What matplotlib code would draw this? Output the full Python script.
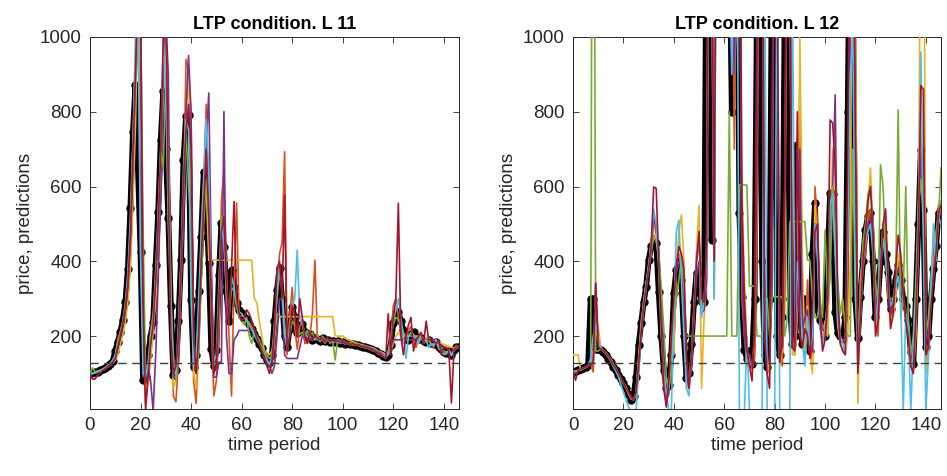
import numpy as np
import matplotlib
matplotlib.use("Agg")
import matplotlib.pyplot as plt

plt.rcParams['font.family'] = ['Liberation Sans', 'DejaVu Sans']

# fundamental price (dashed line)
p_fund = 127

# ---------------- L 11 ----------------
price_11 = [100,101,103,105,108,111,115,120,126,133,
            160,185,210,243,290,380,543,745,872,650,
            426,82,90,150,200,238,390,533,724,855,
            700,516,280,96,110,240,403,671,789,791,
            296,117,150,320,466,640,560,395,165,120,
            163,363,502,439,320,240,376,330,288,270,
            262,252,245,232,220,205,192,180,168,150,
            135,128,150,240,323,382,300,200,171,220,
            278,250,208,215,232,210,198,205,189,196,
            192,188,194,186,190,185,188,184,186,182,
            184,180,181,178,179,176,177,174,172,170,
            168,166,163,160,156,152,148,145,150,175,
            235,262,265,240,215,200,190,205,210,198,
            192,196,188,185,190,182,178,185,170,165,
            158,155,160,150,162,170,172]

orange_11 = [100,99,103,106,108,112,116,121,127,134,
             142,192,212,238,280,340,470,710,950,1150,
             430,200,20,98,215,255,280,545,680,920,
             1100,545,330,40,24,130,370,560,940,910,
             790,80,20,185,490,615,820,480,230,40,
             80,210,560,640,380,200,40,330,556,250,
             255,250,240,238,225,215,198,185,172,160,
             140,120,125,175,330,420,450,693,150,250,
             330,225,165,225,245,180,185,200,260,403,
             190,195,190,180,192,188,182,186,184,180,
             186,178,183,176,180,174,178,172,173,168,
             170,164,160,158,152,150,145,142,152,190,
             280,300,250,215,180,190,215,225,195,170,
             195,200,180,190,195,175,170,190,165,160,
             155,150,165,148,168,175,170]

yellow_11 = [98,100,101,104,106,109,112,117,122,128,
             135,150,178,205,238,290,380,560,760,1100,
             1100,300,60,70,140,210,300,420,620,850,
             1000,750,300,60,80,180,330,560,780,900,
             600,100,60,200,400,600,600,403,403,403,
             403,403,403,403,403,403,403,403,403,403,
             403,403,403,403,403,300,290,240,200,160,
             155,150,160,200,260,252,252,252,252,252,
             252,252,252,252,252,252,252,252,252,252,
             252,252,252,252,252,252,252,200,200,200,
             200,195,190,188,185,182,180,178,176,174,
             172,170,168,165,160,158,155,150,152,160,
             180,200,210,200,200,200,200,200,200,200,
             200,200,195,195,195,190,190,188,185,180,
             178,175,172,170,168,170,172]

purple_11 = [100,101,102,104,107,110,113,118,124,130,
             140,170,200,230,270,330,450,650,900,1100,
             1000,90,120,120,80,0,150,350,600,900,
             1050,900,250,90,90,150,350,500,800,950,
             800,200,100,180,400,600,720,850,400,90,
             90,130,130,800,200,100,100,190,200,215,
             215,215,215,215,215,215,200,180,160,140,
             130,120,100,120,200,300,300,150,140,140,
             140,140,140,170,200,200,190,190,190,190,
             190,190,190,190,190,190,190,190,190,190,
             190,185,182,180,180,178,176,175,174,172,
             170,168,165,162,158,155,150,140,150,170,
             190,190,190,190,190,190,190,190,190,190,
             190,190,190,190,190,190,190,190,180,175,
             160,155,160,155,165,170,172]

green_11 = [100,115,104,106,108,111,115,120,126,133,
            145,180,210,240,280,350,480,700,880,960,
            1100,500,100,110,200,260,350,480,700,650,
            900,700,300,150,80,200,400,600,750,600,
            500,200,100,150,350,500,620,520,300,120,
            130,250,520,480,300,250,330,320,280,250,
            240,230,250,200,180,215,200,190,170,160,
            150,140,150,210,300,370,330,230,160,200,
            240,230,225,205,210,200,215,195,210,190,
            205,185,200,190,195,180,190,136,190,185,
            185,182,180,183,176,178,176,172,174,170,
            167,165,162,160,155,150,147,148,160,200,
            230,250,245,230,210,200,200,200,205,195,
            190,195,190,185,188,180,178,183,172,168,
            160,157,158,152,160,168,172]

cyan_11 = [100,100,103,105,108,111,115,121,127,135,
           150,180,205,240,285,370,520,720,1000,1100,
           420,100,90,130,200,240,380,520,700,1000,
           850,500,280,110,100,230,400,650,780,750,
           300,120,140,300,460,620,780,640,300,130,
           150,340,500,450,320,245,360,330,285,265,
           260,250,242,230,218,203,190,178,165,150,
           135,125,145,235,320,380,320,205,170,215,
           280,300,430,250,230,210,198,205,190,195,
           193,187,194,186,190,185,188,184,186,182,
           183,180,181,177,179,176,177,173,171,169,
           167,165,162,159,155,151,147,145,152,180,
           240,270,300,250,200,140,200,210,200,195,
           180,200,185,190,170,180,175,190,168,160,
           150,155,162,148,160,168,170]

red_11 = [98,85,85,95,100,108,112,118,123,130,
          140,170,200,235,275,340,470,690,900,1150,
          1150,300,0,90,180,230,350,500,700,1000,
          1100,600,200,100,120,200,380,620,750,820,
          700,200,100,200,400,550,700,520,300,100,
          120,300,480,520,340,230,380,560,300,260,
          240,250,270,260,240,220,195,180,160,145,
          120,100,130,220,380,400,300,577,160,200,
          280,260,200,300,250,200,180,210,190,200,
          195,190,195,185,195,185,190,185,188,183,
          185,180,183,177,180,175,178,173,172,170,
          168,165,162,158,155,150,145,140,260,150,
          250,300,555,200,150,200,230,250,160,190,
          200,210,180,240,190,190,185,180,190,150,
          170,170,160,21,160,170,172]

# ---------------- L 12 ----------------
price_12 = [105,106,110,112,115,118,122,300,300,165,
            165,162,158,150,140,130,118,108,97,85,
            74,60,45,30,40,91,176,234,290,332,
            403,440,449,449,319,200,110,61,70,150,
            315,377,400,350,200,88,100,180,292,369,
            330,292,290,1400,1250,457,1500,1300,1200,1600,
            1400,1100,1300,800,1200,1500,529,305,163,140,
            160,126,300,1100,1500,400,150,118,300,1300,
            1200,200,150,250,1100,1400,300,180,200,711,
            262,180,300,200,160,420,556,270,244,225,
            200,400,583,580,265,208,200,192,250,800,
            1500,1200,300,195,305,400,484,520,529,400,
            252,300,400,479,420,372,273,300,350,390,
            350,300,280,243,157,125,300,500,698,537,
            171,200,300,380,440,529,540]

orange_12 = [105,104,108,111,114,117,120,125,104,300,
             200,170,162,155,148,138,125,112,100,88,
             75,62,48,35,28,45,130,240,280,340,
             370,460,470,450,420,250,100,20,60,100,
             230,400,420,380,320,120,80,150,280,400,
             450,300,280,400,2000,1200,300,2000,1500,1300,
             1800,1500,1000,1400,700,1300,1600,300,200,120,
             150,110,140,450,1600,1800,300,120,100,450,
             2000,1100,180,120,320,1500,1600,200,150,250,
             900,200,150,350,180,130,600,500,250,230,
             210,200,500,600,550,250,190,190,190,300,
             1200,1600,900,100,250,380,420,500,540,500,
             300,200,380,450,480,350,250,280,360,400,
             370,290,270,230,150,110,260,550,750,600,
             120,180,320,400,460,550,560]

yellow_12 = [150,150,150,108,113,116,120,125,130,200,
             225,170,160,152,145,133,120,110,98,86,
             72,60,45,32,30,50,140,220,290,340,
             380,420,500,470,400,250,60,90,40,200,
             150,380,480,524,400,60,80,140,260,430,
             550,60,250,350,1500,1700,600,2000,1400,1500,
             1300,1800,1200,1500,900,1100,1700,600,350,160,
             130,120,180,800,1700,1600,250,100,140,600,
             1800,1200,120,160,500,1600,1200,150,150,270,
             1000,400,160,280,150,100,550,450,260,200,
             240,200,450,700,620,230,180,160,150,200,
             400,1800,1100,20,350,420,450,540,650,480,
             220,250,400,500,520,350,230,250,300,420,
             400,300,250,230,140,100,200,450,1500,1800,
             100,150,300,380,460,500,560]

purple_12 = [105,100,108,111,114,117,120,123,128,341,
             180,168,160,152,143,133,120,110,98,86,
             74,60,48,35,28,40,120,200,270,320,
             380,430,520,480,400,280,120,20,50,150,
             280,370,400,390,300,100,60,120,260,360,
             400,260,270,350,1500,1300,350,1600,1300,1400,
             1500,1300,1100,1200,900,1300,1400,400,200,140,
             150,120,200,700,1500,1400,280,130,140,500,
             1500,1000,160,170,600,1300,1200,200,180,300,
             700,220,250,270,150,160,500,480,250,220,
             210,300,480,600,845,300,200,180,200,400,
             1100,1300,700,180,300,380,460,500,520,450,
             270,280,390,460,440,360,260,290,340,380,
             360,310,270,240,160,120,280,480,680,560,
             180,210,300,370,430,510,530]

green_12 = [105,106,108,111,114,117,120,130,2500,160,
            160,165,160,155,145,140,125,115,100,88,
            75,65,50,38,30,40,110,210,270,330,
            390,430,460,460,420,330,220,90,60,120,
            250,300,350,410,330,200,200,200,200,200,
            200,200,200,200,200,200,200,200,200,200,
            200,200,800,200,200,200,604,604,604,604,
            334,334,334,200,200,200,300,300,200,305,
            305,305,305,305,200,250,506,506,506,506,
            506,506,506,403,403,300,250,250,300,250,
            484,300,350,600,420,350,260,300,220,200,
            200,700,300,200,300,450,500,580,600,500,
            350,280,658,600,420,300,300,300,350,805,
            250,300,600,250,150,200,350,550,620,500,
            200,250,350,450,480,520,650]

cyan_12 = [105,106,108,111,114,117,120,140,200,234,
           190,165,160,153,145,133,118,106,92,70,
           50,30,10,0,0,0,100,220,290,340,
           390,450,540,500,380,200,100,50,0,0,
           250,480,510,350,200,60,40,150,280,420,
           460,250,300,400,1800,1300,300,1700,1400,1300,
           1500,1200,1200,900,1300,1500,0,0,0,200,
           0,0,0,0,0,0,1300,0,0,0,
           0,1400,0,0,0,0,0,1200,200,400,
           300,180,120,250,160,200,500,400,220,180,
           220,300,550,580,420,240,200,180,150,500,
           900,1000,350,120,250,400,460,480,500,420,
           230,300,420,460,400,330,280,300,330,360,
           300,0,260,220,0,180,300,480,960,450,
           0,150,320,500,400,520,500]

red_12 = [105,82,108,111,114,117,120,124,130,342,
          170,165,160,153,146,136,122,112,100,88,
          76,62,50,38,30,50,120,210,280,330,
          380,440,599,595,400,230,60,10,80,200,
          300,390,440,420,380,150,60,150,270,400,
          480,300,290,450,1900,1400,400,1800,1600,1400,
          1700,1600,1300,1300,1100,1400,1700,560,300,160,
          120,80,230,1100,1800,1600,200,100,60,800,
          1600,1200,130,180,600,1700,1400,170,160,800,
          200,170,220,200,140,280,480,500,250,160,
          190,300,778,770,650,300,180,160,150,700,
          1600,1700,800,100,250,400,470,560,600,470,
          200,240,380,500,540,340,220,260,380,470,
          420,320,240,200,120,100,250,480,870,860,
          150,170,280,350,420,530,550]

# MATLAB default colour order (without the first blue)
pred_colors = [(0.850, 0.325, 0.098), (0.929, 0.694, 0.125),
               (0.494, 0.184, 0.556), (0.466, 0.674, 0.188),
               (0.301, 0.745, 0.933), (0.635, 0.078, 0.184)]

panels = [("LTP condition. L 11", price_11,
           [orange_11, yellow_11, purple_11, green_11, cyan_11, red_11]),
          ("LTP condition. L 12", price_12,
           [orange_12, yellow_12, purple_12, green_12, cyan_12, red_12])]

fig = plt.figure(figsize=(9.47, 4.76), dpi=100)
positions = [[0.0950, 0.1408, 0.3897, 0.7815],
             [0.6051, 0.1408, 0.3886, 0.7815]]

axcol = (0.15, 0.15, 0.15)
for pos, (title, price, preds) in zip(positions, panels):
    ax = fig.add_axes(pos)
    t = np.arange(len(price))
    ax.plot(t, price, color='black', linewidth=4.2, marker='o',
            markersize=5, zorder=2)
    for s, c in zip(preds, pred_colors):
        ts = np.arange(len(s))
        ax.plot(ts, s, color=c, linewidth=1.2, zorder=3)
    ax.axhline(p_fund, color=(0.25, 0.25, 0.25), linestyle=(0, (6, 4)),
               linewidth=1.0, zorder=4)
    ax.set_xlim(0, 146)
    ax.set_ylim(5, 1000)
    ax.set_xticks(np.arange(0, 141, 20))
    ax.set_yticks([200, 400, 600, 800, 1000])
    ax.tick_params(direction='in', length=4, width=0.6, top=True, right=True,
                   labelsize=13.5, colors=axcol, pad=6)
    for sp in ax.spines.values():
        sp.set_color(axcol)
        sp.set_linewidth(0.7)
    ax.set_title(title, fontsize=13, fontweight='bold', pad=6)
    ax.set_xlabel('time period', fontsize=13.5, color=axcol, labelpad=2)
    ax.set_ylabel('price, predictions', fontsize=13.5, color=axcol, labelpad=4)

fig.savefig('out.png', dpi=100)
